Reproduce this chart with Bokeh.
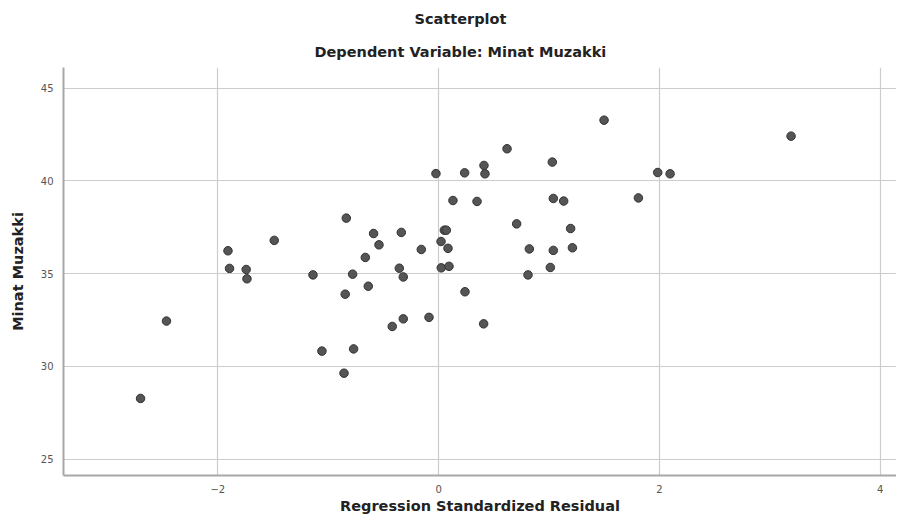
from bokeh.plotting import figure
from bokeh.models import Range1d, Title, FixedTicker, ColumnDataSource
from bokeh.embed import file_html
from bokeh.resources import INLINE

# Regression standardized residual (x) and Minat Muzakki (y)
residual = [-2.700, -2.465, -1.908, -1.894, -1.743, -1.736, -1.489, -1.138, -1.057, -0.857,
            -0.846, -0.836, -0.779, -0.770, -0.664, -0.637, -0.589, -0.540, -0.420, -0.356,
            -0.338, -0.320, -0.320, -0.157, -0.087, -0.024, 0.022, 0.024, 0.052, 0.070,
            0.085, 0.094, 0.130, 0.236, 0.239, 0.348, 0.408, 0.411, 0.420, 0.620,
            0.707, 0.810, 0.822, 1.012, 1.030, 1.039, 1.039, 1.133, 1.196, 1.212,
            1.499, 1.810, 1.985, 2.097, 3.193]
minat = [28.27, 32.44, 36.23, 35.28, 35.22, 34.72, 36.79, 34.93, 30.82, 29.63,
         33.89, 37.99, 34.97, 30.94, 35.87, 34.32, 37.16, 36.55, 32.15, 35.29,
         37.22, 34.82, 32.56, 36.30, 32.64, 40.39, 36.73, 35.31, 37.34, 37.34,
         36.36, 35.39, 38.94, 40.43, 34.02, 38.89, 32.29, 40.83, 40.38, 41.73,
         37.68, 34.93, 36.33, 35.33, 41.01, 39.05, 36.25, 38.91, 37.43, 36.39,
         43.27, 39.08, 40.45, 40.38, 42.41]

x_ticks = [-2, 0, 2, 4]
y_ticks = [25, 30, 35, 40, 45]

FONT = "DejaVu Sans"

p = figure(width=896, height=516, output_backend="svg", toolbar_location=None,
           x_range=Range1d(-3.398, 4.148), y_range=Range1d(24.115, 46.11),
           min_border_left=63, min_border_right=0, min_border_bottom=41, min_border_top=67,
           title="Scatterplot")

p.title.text_font = FONT
p.title.text_font_size = "14.5px"
p.title.text_font_style = "bold"
p.title.text_color = "#222222"
p.title.align = "left"
p.title.offset = 351
p.title.standoff = 13

sub = Title(text="Dependent Variable: Minat Muzakki", text_font=FONT, text_font_size="14.5px",
            text_font_style="bold", text_color="#222222", align="left", offset=251,
            standoff=16)
p.add_layout(sub, "above")

p.outline_line_color = None
p.background_fill_color = "white"
p.border_fill_color = "white"

src = ColumnDataSource(dict(x=residual, y=minat))
p.scatter("x", "y", source=src, size=8.5, fill_color="#555555", line_color="#333333",
          line_width=1)

for ax, ticks in ((p.xaxis, x_ticks), (p.yaxis, y_ticks)):
    ax.ticker = FixedTicker(ticks=ticks)
    ax.axis_line_color = "#a8a8a8"
    ax.axis_line_width = 2
    ax.major_tick_line_color = None
    ax.minor_tick_line_color = None
    ax.major_tick_out = 0
    ax.major_tick_in = 0
    ax.minor_tick_out = 0
    ax.minor_tick_in = 0
    ax.major_label_text_font = FONT
    ax.major_label_text_font_size = "10px"
    ax.major_label_text_color = "#555555"
    ax.axis_label_text_font = FONT
    ax.axis_label_text_font_size = "14.5px"
    ax.axis_label_text_font_style = "bold"
    ax.axis_label_text_color = "#222222"

p.xaxis.axis_label = "Regression Standardized Residual"
p.yaxis.axis_label = "Minat Muzakki"
p.xaxis.major_label_standoff = 9
p.xaxis.axis_label_standoff = 2
p.yaxis.major_label_standoff = 10
p.yaxis.axis_label_standoff = 12

p.grid.grid_line_color = "#cccccc"
p.grid.grid_line_width = 1.2
p.xgrid.ticker = FixedTicker(ticks=x_ticks)
p.ygrid.ticker = FixedTicker(ticks=y_ticks)

open("out.html", "w").write(file_html(p, INLINE))
